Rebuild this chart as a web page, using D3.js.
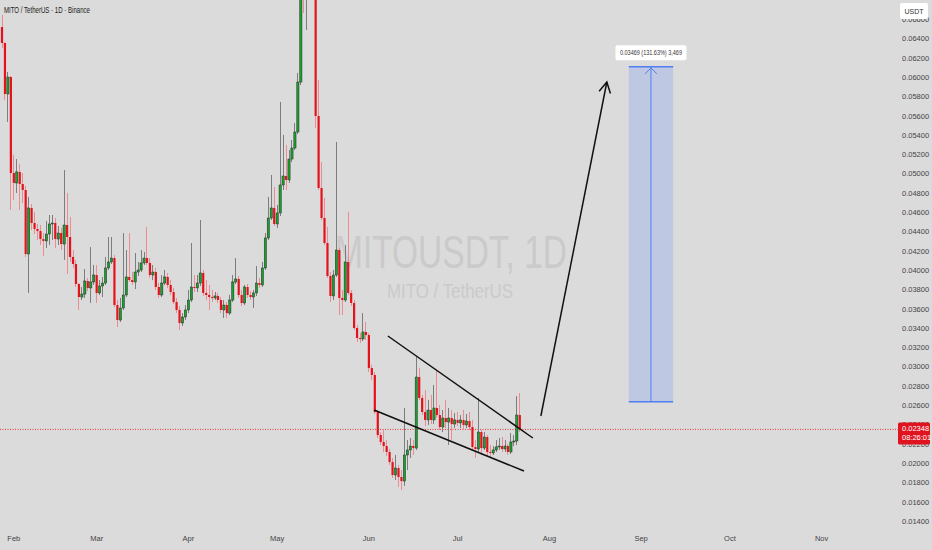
<!DOCTYPE html>
<html>
<head>
<meta charset="utf-8">
<script src="https://cdn.jsdelivr.net/npm/d3@7"></script>
<style>
  body { margin: 0; background: #dbdbdb; }
  svg { display: block; }
</style>
</head>
<body>
<div id="chart"></div>
<script>
// MITO/USDT daily candles, Jan 28 -> Jul 22
const startDay = "2025-01-28"

const opens = [0.06518,0.06352,0.05824,0.06000,0.05005,0.04902,0.05016,0.04891,0.04829,0.04166,
  0.04643,0.04487,0.04425,0.04404,0.04321,0.04301,0.04373,0.04477,0.04487,0.04321,
  0.04383,0.04269,0.04466,0.04342,0.04135,0.04062,0.03855,0.03720,0.03751,0.03886,
  0.03814,0.03876,0.03948,0.03762,0.03834,0.03865,0.04021,0.04083,0.04124,0.03637,
  0.03482,0.03606,0.03741,0.03928,0.03896,0.03876,0.03979,0.04000,0.04073,0.04124,
  0.04073,0.03948,0.03979,0.03824,0.03741,0.03865,0.03928,0.03845,0.03772,0.03668,
  0.03586,0.03451,0.03513,0.03586,0.03689,0.03824,0.03814,0.03865,0.03969,0.03762,
  0.03741,0.03720,0.03710,0.03731,0.03689,0.03586,0.03637,0.03554,0.03689,0.03876,
  0.03907,0.03741,0.03658,0.03824,0.03741,0.03720,0.03762,0.03865,0.03845,0.04021,
  0.04332,0.04539,0.04643,0.04477,0.04591,0.04881,0.04974,0.04933,0.05150,0.05264,
  0.05430,0.05948,0.07161,0.07005,0.07057,0.06953,0.07109,0.05596,0.04850,0.04539,
  0.04280,0.03938,0.03731,0.03948,0.04207,0.03710,0.03689,0.04083,0.03762,0.03658,
  0.03399,0.03295,0.03285,0.03358,0.03326,0.02984,0.02912,0.02528,0.02290,0.02218,
  0.02176,0.02114,0.02010,0.01876,0.01948,0.01855,0.01813,0.02083,0.02135,0.02176,
  0.02155,0.02891,0.02674,0.02528,0.02446,0.02549,0.02446,0.02570,0.02497,0.02373,
  0.02466,0.02425,0.02466,0.02404,0.02446,0.02415,0.02446,0.02394,0.02435,0.02373,
  0.02166,0.02145,0.02321,0.02155,0.02269,0.02114,0.02104,0.02135,0.02166,0.02176,
  0.02145,0.02176,0.02114,0.02218,0.02228,0.02497]

const highs = [0.06643,0.06363,0.06052,0.06010,0.05192,0.05150,0.05099,0.05005,0.04871,0.04757,
  0.04684,0.04601,0.04477,0.04466,0.04383,0.04508,0.04570,0.04570,0.04539,0.04456,
  0.04435,0.05036,0.04798,0.04549,0.04207,0.04104,0.03865,0.03824,0.04010,0.03917,
  0.04238,0.04052,0.04052,0.03896,0.03928,0.04135,0.04342,0.04342,0.04155,0.03689,
  0.03710,0.04383,0.04207,0.04383,0.03979,0.04176,0.04083,0.04207,0.04187,0.04446,
  0.04124,0.04052,0.04021,0.03865,0.03948,0.04000,0.03969,0.03896,0.03814,0.03710,
  0.03627,0.03554,0.03637,0.03793,0.04280,0.03948,0.03948,0.04518,0.04000,0.03896,
  0.03845,0.03793,0.03772,0.03762,0.03720,0.03689,0.03668,0.03741,0.03948,0.04124,
  0.03938,0.03793,0.03845,0.03855,0.03782,0.03793,0.04041,0.03917,0.04083,0.04383,
  0.04757,0.04985,0.04860,0.04674,0.05741,0.05399,0.05295,0.05244,0.05347,0.05523,
  0.06042,0.07420,0.07316,0.07264,0.07213,0.07523,0.07213,0.05969,0.05119,0.04746,
  0.04446,0.03979,0.04000,0.05327,0.04228,0.03793,0.04259,0.04601,0.03793,0.03689,
  0.03430,0.03347,0.03554,0.03461,0.03347,0.03016,0.02943,0.02549,0.02321,0.02342,
  0.02238,0.02145,0.02052,0.02083,0.01979,0.01927,0.02570,0.02238,0.02259,0.02238,
  0.03098,0.02984,0.02705,0.02756,0.02653,0.02705,0.02808,0.02964,0.02601,0.02549,
  0.02653,0.02570,0.02549,0.02518,0.02528,0.02497,0.02549,0.02508,0.02528,0.02446,
  0.02238,0.02674,0.02342,0.02321,0.02290,0.02187,0.02176,0.02238,0.02259,0.02269,
  0.02238,0.02197,0.02311,0.02290,0.02694,0.02725]

const lows = [0.06301,0.05762,0.05534,0.04622,0.04725,0.04798,0.04622,0.04694,0.04135,0.03762,
  0.04415,0.04373,0.04311,0.04259,0.04145,0.04228,0.04259,0.04311,0.04228,0.04259,
  0.04207,0.04104,0.03959,0.04083,0.04021,0.03824,0.03586,0.03689,0.03710,0.03782,
  0.03658,0.03845,0.03658,0.03741,0.03720,0.03845,0.04000,0.04062,0.03617,0.03409,
  0.03461,0.03586,0.03720,0.03876,0.03845,0.03803,0.03938,0.03979,0.04052,0.04052,
  0.03917,0.03896,0.03793,0.03710,0.03720,0.03845,0.03814,0.03741,0.03648,0.03554,
  0.03378,0.03420,0.03482,0.03554,0.03668,0.03772,0.03772,0.03834,0.03731,0.03689,
  0.03586,0.03668,0.03689,0.03658,0.03554,0.03503,0.03503,0.03534,0.03668,0.03855,
  0.03710,0.03627,0.03637,0.03710,0.03689,0.03606,0.03731,0.03814,0.03824,0.04000,
  0.04311,0.04518,0.04456,0.04435,0.04560,0.04829,0.04829,0.04902,0.05119,0.05244,
  0.05409,0.05917,0.06663,0.06487,0.06850,0.06881,0.05472,0.04829,0.04518,0.04259,
  0.03917,0.03668,0.03689,0.03928,0.03534,0.03534,0.03668,0.03741,0.03627,0.03378,
  0.03254,0.03244,0.03264,0.03275,0.02943,0.02860,0.02508,0.02259,0.02187,0.02114,
  0.02073,0.01979,0.01845,0.01824,0.01751,0.01720,0.01762,0.01927,0.02052,0.02083,
  0.02135,0.02653,0.02497,0.02383,0.02394,0.02404,0.02404,0.02466,0.02342,0.02321,
  0.02363,0.02187,0.02238,0.02363,0.02383,0.02363,0.02342,0.02363,0.02342,0.02135,
  0.02052,0.02114,0.02083,0.02135,0.02073,0.02052,0.02083,0.02114,0.02135,0.02114,
  0.02114,0.02083,0.02093,0.02176,0.02187,0.02321]

const closes = [0.06352,0.05824,0.06000,0.05005,0.04902,0.05016,0.04891,0.04829,0.04166,0.04643,
  0.04487,0.04425,0.04404,0.04321,0.04301,0.04373,0.04477,0.04487,0.04321,0.04383,
  0.04269,0.04466,0.04342,0.04135,0.04062,0.03855,0.03720,0.03751,0.03886,0.03814,
  0.03876,0.03948,0.03762,0.03834,0.03865,0.04021,0.04083,0.04124,0.03637,0.03482,
  0.03606,0.03741,0.03928,0.03896,0.03876,0.03979,0.04000,0.04073,0.04124,0.04073,
  0.03948,0.03979,0.03824,0.03741,0.03865,0.03928,0.03845,0.03772,0.03668,0.03586,
  0.03451,0.03513,0.03586,0.03689,0.03824,0.03814,0.03865,0.03969,0.03762,0.03741,
  0.03720,0.03710,0.03731,0.03689,0.03586,0.03637,0.03554,0.03689,0.03876,0.03907,
  0.03741,0.03658,0.03824,0.03741,0.03720,0.03762,0.03865,0.03845,0.04021,0.04332,
  0.04539,0.04643,0.04477,0.04591,0.04881,0.04974,0.04933,0.05150,0.05264,0.05430,
  0.05948,0.07161,0.07005,0.07057,0.06953,0.07109,0.05596,0.04850,0.04539,0.04280,
  0.03938,0.03731,0.03948,0.04207,0.03710,0.03689,0.04083,0.03762,0.03658,0.03399,
  0.03295,0.03285,0.03358,0.03326,0.02984,0.02912,0.02528,0.02290,0.02218,0.02176,
  0.02114,0.02010,0.01876,0.01948,0.01855,0.01813,0.02083,0.02135,0.02176,0.02155,
  0.02891,0.02674,0.02528,0.02446,0.02549,0.02446,0.02570,0.02497,0.02373,0.02466,
  0.02425,0.02466,0.02404,0.02446,0.02415,0.02446,0.02394,0.02435,0.02373,0.02166,
  0.02145,0.02321,0.02155,0.02269,0.02114,0.02104,0.02135,0.02166,0.02176,0.02145,
  0.02176,0.02114,0.02218,0.02228,0.02497,0.02348]

const priceTicks = [0.014,0.016,0.018,0.020,0.022,0.024,0.026,0.028,0.030,0.032,0.034,0.036,
  0.038,0.040,0.042,0.044,0.046,0.048,0.050,0.052,0.054,0.056,0.058,0.060,0.062,0.064,0.066]
const monthTicks = ["2025-02-01","2025-03-01","2025-04-01","2025-05-01","2025-06-01",
  "2025-07-01","2025-08-01","2025-09-01","2025-10-01","2025-11-01"]
const monthLabels = ["Feb","Mar","Apr","May","Jun","Jul","Aug","Sep","Oct","Nov"]

// drawings on the chart
const upperTrend = [["2025-06-07T14:00Z", 0.03316], ["2025-07-26T14:00Z", 0.02259]]
const lowerTrend = [["2025-06-02T22:00Z", 0.02549], ["2025-07-23T14:00Z", 0.01917]]
const projection = [["2025-07-29T07:00Z", 0.02487], ["2025-08-20T14:00Z", 0.05948]]
const targetBox = {from: "2025-08-28", to: "2025-09-12", low: 0.02636, high: 0.06105}
const targetLabel = "0.03469 (131.63%) 3,469"
const lastPrice = 0.02348
const countdown = "08:26:01"

const size = [932, 550]
const narrow = "'Liberation Sans Narrow', 'Liberation Sans', Arial, sans-serif"

const candles = closes.map((c, i) => ({
  date: d3.utcDay.offset(new Date(startDay), i),
  o: opens[i], h: highs[i], l: lows[i], c: c
}))

const x = d3.scaleUtc()
  .domain([new Date("2025-01-28"), new Date("2025-11-01")])
  .range([1.5, 821.1])

const y = d3.scaleLinear()
  .domain([0.014, 0.064])
  .range([520.9, 38.4])

const svg = d3.create("svg")
  .attr("width", size[0])
  .attr("height", size[1])

svg.append("rect")
  .attr("width", size[0]).attr("height", size[1])
  .attr("fill", "#dbdbdb")

// watermark
svg.append("text")
  .attr("x", 451).attr("y", 268)
  .attr("text-anchor", "middle")
  .attr("font-family", narrow)
  .attr("font-size", 46)
  .attr("fill", "#cacaca")
  .attr("textLength", 232).attr("lengthAdjust", "spacingAndGlyphs")
  .text("MITOUSDT, 1D")
svg.append("text")
  .attr("x", 450).attr("y", 298)
  .attr("text-anchor", "middle")
  .attr("font-family", narrow)
  .attr("font-size", 20)
  .attr("fill", "#cacaca")
  .attr("textLength", 126).attr("lengthAdjust", "spacingAndGlyphs")
  .text("MITO / TetherUS")

// title
svg.append("text")
  .attr("x", 4).attr("y", 13)
  .attr("font-family", narrow)
  .attr("font-size", 9)
  .attr("fill", "#1a1a1a")
  .attr("textLength", 86).attr("lengthAdjust", "spacingAndGlyphs")
  .text("MITO / TetherUS · 1D · Binance")

// target box
const tb = svg.append("g")
const bx0 = x(new Date(targetBox.from)), bx1 = x(new Date(targetBox.to))
const by0 = y(targetBox.high), by1 = y(targetBox.low)
tb.append("rect")
  .attr("x", bx0).attr("y", by0)
  .attr("width", bx1 - bx0).attr("height", by1 - by0)
  .attr("fill", "#bfc8e3")
tb.selectAll("line.edge")
  .data([by0, by1])
  .join("line")
    .attr("class", "edge")
    .attr("x1", bx0).attr("x2", bx1)
    .attr("y1", d => d).attr("y2", d => d)
    .attr("stroke", "#4f7ff2")
    .attr("stroke-width", 1.5)
const bxm = (bx0 + bx1) / 2
tb.append("line")
  .attr("x1", bxm).attr("x2", bxm)
  .attr("y1", by1).attr("y2", by0)
  .attr("stroke", "#4f7ff2").attr("stroke-width", 1)
tb.append("path")
  .attr("d", `M${bxm - 6},${by0 + 7}L${bxm},${by0 + 1}L${bxm + 6},${by0 + 7}`)
  .attr("fill", "none").attr("stroke", "#4f7ff2").attr("stroke-width", 1)

const lbl = svg.append("g").attr("transform", `translate(${bxm},${by0 - 14})`)
lbl.append("rect")
  .attr("x", -35.5).attr("y", -7.5)
  .attr("width", 71).attr("height", 15)
  .attr("rx", 2)
  .attr("fill", "#fff")
lbl.append("text")
  .attr("text-anchor", "middle").attr("y", 2.5)
  .attr("font-family", narrow).attr("font-size", 7)
  .attr("fill", "#333")
  .attr("textLength", 62).attr("lengthAdjust", "spacingAndGlyphs")
  .text(targetLabel)

// last price dotted line
svg.append("line")
  .attr("x1", 0).attr("x2", 898)
  .attr("y1", y(lastPrice)).attr("y2", y(lastPrice))
  .attr("stroke", "#f0313b").attr("stroke-width", 1)
  .attr("stroke-dasharray", "1,1.5")

// candles
const bodyW = 2.2
const up = d => d.c >= d.o
svg.append("g")
  .selectAll("line")
  .data(candles)
  .join("line")
    .attr("x1", d => Math.round(x(d.date)) + 0.5)
    .attr("x2", d => Math.round(x(d.date)) + 0.5)
    .attr("y1", d => y(d.h))
    .attr("y2", d => y(d.l))
    .attr("stroke", d => up(d) ? "#7d7d7d" : "#ec8b90")
    .attr("stroke-width", 1)

svg.append("g")
  .selectAll("rect")
  .data(candles)
  .join("rect")
    .attr("x", d => x(d.date) - bodyW / 2 + 0.5)
    .attr("y", d => y(Math.max(d.o, d.c)))
    .attr("width", bodyW)
    .attr("height", d => Math.max(1, Math.abs(y(d.o) - y(d.c))))
    .attr("fill", d => up(d) ? "#14a32a" : "#e5121c")
    .attr("stroke", d => up(d) ? "#2b2b2b" : "none")
    .attr("stroke-width", 0.5)

// pattern lines
const lineGen = d3.line()
  .x(d => x(new Date(d[0])))
  .y(d => y(d[1]))

svg.append("g")
  .selectAll("path")
  .data([upperTrend, lowerTrend, projection])
  .join("path")
    .attr("d", lineGen)
    .attr("fill", "none")
    .attr("stroke", "#111")
    .attr("stroke-width", 1.5)

// arrow head on projection
const p0 = [x(new Date(projection[0][0])), y(projection[0][1])]
const p1 = [x(new Date(projection[1][0])), y(projection[1][1])]
const ang = Math.atan2(p1[1] - p0[1], p1[0] - p0[0])
const headLen = 12, spread = 0.5
svg.append("path")
  .attr("d", `M${p1[0] - headLen * Math.cos(ang - spread)},${p1[1] - headLen * Math.sin(ang - spread)}` +
    `L${p1[0]},${p1[1]}` +
    `L${p1[0] - headLen * Math.cos(ang + spread)},${p1[1] - headLen * Math.sin(ang + spread)}`)
  .attr("fill", "none")
  .attr("stroke", "#111")
  .attr("stroke-width", 1.5)

// price axis
const yAxis = g => g
  .attr("transform", "translate(902,0)")
  .call(d3.axisRight(y)
    .tickValues(priceTicks)
    .tickFormat(d3.format(".5f"))
    .tickSize(0)
    .tickPadding(0))
  .call(g => g.select(".domain").remove())
  .call(g => g.selectAll("text")
    .attr("font-family", narrow)
    .attr("font-size", 7.5)
    .attr("fill", "#444"))

svg.append("g").call(yAxis)

// time axis
const xAxis = g => g
  .attr("transform", "translate(0,536)")
  .call(d3.axisBottom(x)
    .tickValues(monthTicks.map(d => new Date(d)))
    .tickFormat((d, i) => monthLabels[i])
    .tickSize(0)
    .tickPadding(0))
  .call(g => g.select(".domain").remove())
  .call(g => g.selectAll("text")
    .attr("font-family", narrow)
    .attr("font-size", 7.5)
    .attr("fill", "#444"))

svg.append("g").call(xAxis)

// currency badge
const badge = svg.append("g").attr("transform", "translate(900,3)")
badge.append("rect")
  .attr("width", 28).attr("height", 16).attr("rx", 2)
  .attr("fill", "#fff")
badge.append("text")
  .attr("x", 14).attr("y", 11)
  .attr("text-anchor", "middle")
  .attr("font-family", narrow).attr("font-size", 7)
  .attr("fill", "#333")
  .text("USDT")

// last price tag (sits over the neighbouring tick labels, as on the chart)
const tag = svg.append("g").attr("transform", `translate(898,${y(lastPrice) - 7})`)
tag.append("rect")
  .attr("width", 32).attr("height", 22).attr("rx", 1.5)
  .attr("fill", "#e0141f")
tag.append("text")
  .attr("x", 4).attr("y", 8.5)
  .attr("font-family", narrow).attr("font-size", 7.5)
  .attr("fill", "#fff")
  .text(d3.format(".5f")(lastPrice))
tag.append("text")
  .attr("x", 4).attr("y", 17.5)
  .attr("font-family", narrow).attr("font-size", 7.5)
  .attr("fill", "#fff")
  .text(countdown)

d3.select("#chart").append(() => svg.node())
</script>
</body>
</html>
